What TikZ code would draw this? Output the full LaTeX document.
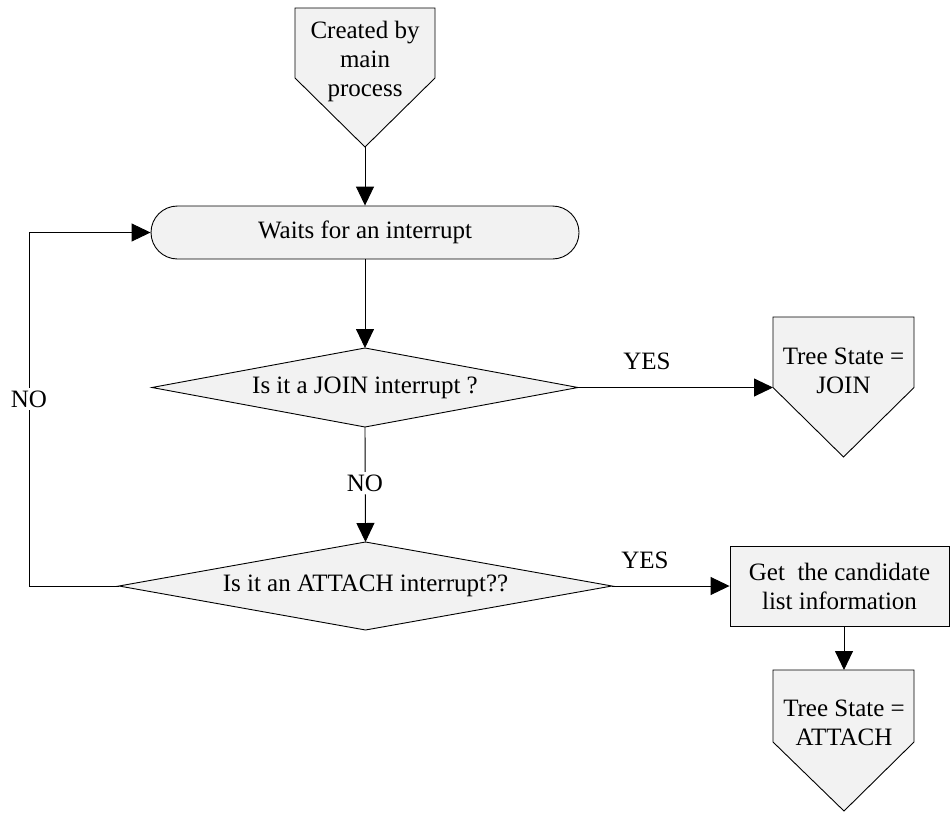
\documentclass[tikz,border=0pt]{standalone}
\usepackage{fontspec}
\setmainfont{Liberation Serif}
\usetikzlibrary{arrows.meta,shapes.misc}
\begin{document}
\begin{tikzpicture}[x=1pt,y=-1pt,
  outline/.style={draw=black,line width=0.9pt,fill=gray!10},
  flow/.style={draw=black,line width=0.9pt,-{Triangle[length=19pt,width=18pt]}},
  txt/.style={font=\fontsize{25}{29}\selectfont,align=center,inner sep=0pt},
  tag/.style={font=\fontsize{25}{29}\selectfont,fill=white,inner sep=3pt}
]
\useasboundingbox (0,0) rectangle (951,814);

% off-page connector: start
\coordinate (start-out) at (365,147);
\draw[outline] (295,8) -- (435,8) -- (435,78) -- (start-out) -- (295,78) -- cycle;
\node[txt] (start) at (365,61) {Created by\\main\\process};

% waiting state
\node[outline,rounded rectangle,minimum width=428pt,minimum height=53pt,
      inner sep=0pt,font=\fontsize{25}{29}\selectfont] (wait) at (365,232.5)
      {Waits for an interrupt};

% decision: JOIN
\coordinate (q1-left) at (152,387.5);
\coordinate (q1-top) at (365,348);
\coordinate (q1-right) at (578,387.5);
\coordinate (q1-bottom) at (365,427);
\draw[outline] (q1-left) -- (q1-top) -- (q1-right) -- (q1-bottom) -- cycle;
\node[txt] (q1) at (365,387.5) {Is it a JOIN interrupt ?};

% result: JOIN
\coordinate (join-in) at (773,387.5);
\draw[outline] (773,317) -- (914,317) -- (914,387.5) -- (843.5,457) -- (join-in) -- cycle;
\node[txt] (join) at (843.5,371) {Tree State =\\JOIN};

% decision: ATTACH
\coordinate (q2-left) at (119,586);
\coordinate (q2-top) at (365.5,542);
\coordinate (q2-right) at (612,586);
\coordinate (q2-bottom) at (365.5,630);
\draw[outline] (q2-left) -- (q2-top) -- (q2-right) -- (q2-bottom) -- cycle;
\node[txt] (q2) at (365.5,586) {Is it an ATTACH interrupt??};

% candidate list step
\node[outline,minimum width=219pt,minimum height=80pt,inner sep=0pt,
      align=center,font=\fontsize{25}{29}\selectfont] (info) at (839.5,586)
      {Get~ the candidate\\list information};

% result: ATTACH
\coordinate (attach-top) at (844,670);
\draw[outline] (773,670) -- (914,670) -- (914,742) -- (844,811) -- (773,742) -- cycle;
\node[txt] (attach) at (844,723) {Tree State =\\ATTACH};

% connectors
\draw[flow] (start-out) -- (wait.north);
\draw[flow] (wait.south) -- (q1-top);
\draw[flow] (q1-right) -- (join-in);
\draw[flow] (q1-bottom) -- (q2-top);
\draw[flow] (q2-right) -- (q2-right -| info.west);
\draw[flow] (info.south -| attach-top) -- (attach-top);
\coordinate (loop) at (29,586);
\draw[flow] (q2-left) -- (loop) |- (wait.west);

% labels
\node[tag] (no-mid) at (365,483) {NO};
\node[tag] (no-left) at (29,399) {NO};
\node[txt] (yes-top) at (647,361) {YES};
\node[txt] (yes-bottom) at (645,560) {YES};
\end{tikzpicture}
\end{document}
